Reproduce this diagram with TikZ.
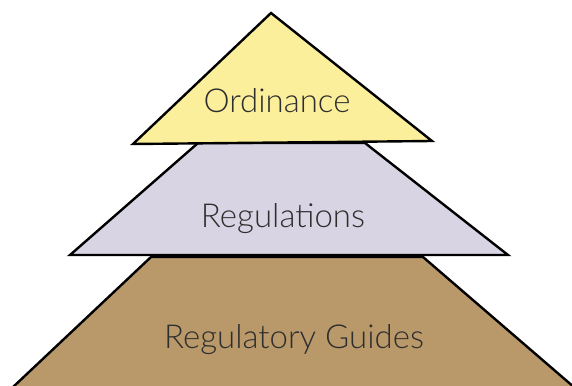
\documentclass[tikz,border=0pt]{standalone}
\usepackage{fontspec}
\setmainfont{Lato Light}
\usetikzlibrary{calc}
\definecolor{ordinanceYellow}{HTML}{FCEF9B}
\definecolor{regulationsLilac}{HTML}{D8D4E3}
\definecolor{guidesTan}{HTML}{B9996A}
\definecolor{labelGrey}{HTML}{2E2E2E}
\tikzset{%
  % Specifications for style of the layers:
     layer/.style = {draw=black, line width=2.4pt, line join=miter},
    ordinanceLayer/.style = {layer, fill=ordinanceYellow},
    regulationsLayer/.style = {layer, fill=regulationsLilac},
    guidesLayer/.style = {layer, fill=guidesTan},
    layerLabel/.style = {text=labelGrey, font=\fontsize{33}{38}\selectfont, inner sep=0pt},
}

\begin{document}
\begin{tikzpicture}[x=1pt, y=-1pt]
  \useasboundingbox (0,0) rectangle (572,385);
  \clip (0,0) rectangle (572,385);
  % Layers of the pyramid, from the bottom up
  \draw[guidesLayer]      (151,257) -- (423,257) -- (575,388) -- (12,388) -- cycle;
  \draw[regulationsLayer] (198,143) -- (365,143) -- (508,255) -- (70,255) -- cycle;
  \draw[ordinanceLayer]   (271,13) -- (432,141) -- (133,144) -- cycle;

  % Labels of the layers
  \node (ordinance)   [layerLabel, anchor=base] at (277,113) {Ordinance};
  \node (regulations) [layerLabel, anchor=base] at (283,227) {Regulations};
  \node (guides)      [layerLabel, anchor=base] at (294,348) {Regulatory Guides};
\end{tikzpicture}
\end{document}
